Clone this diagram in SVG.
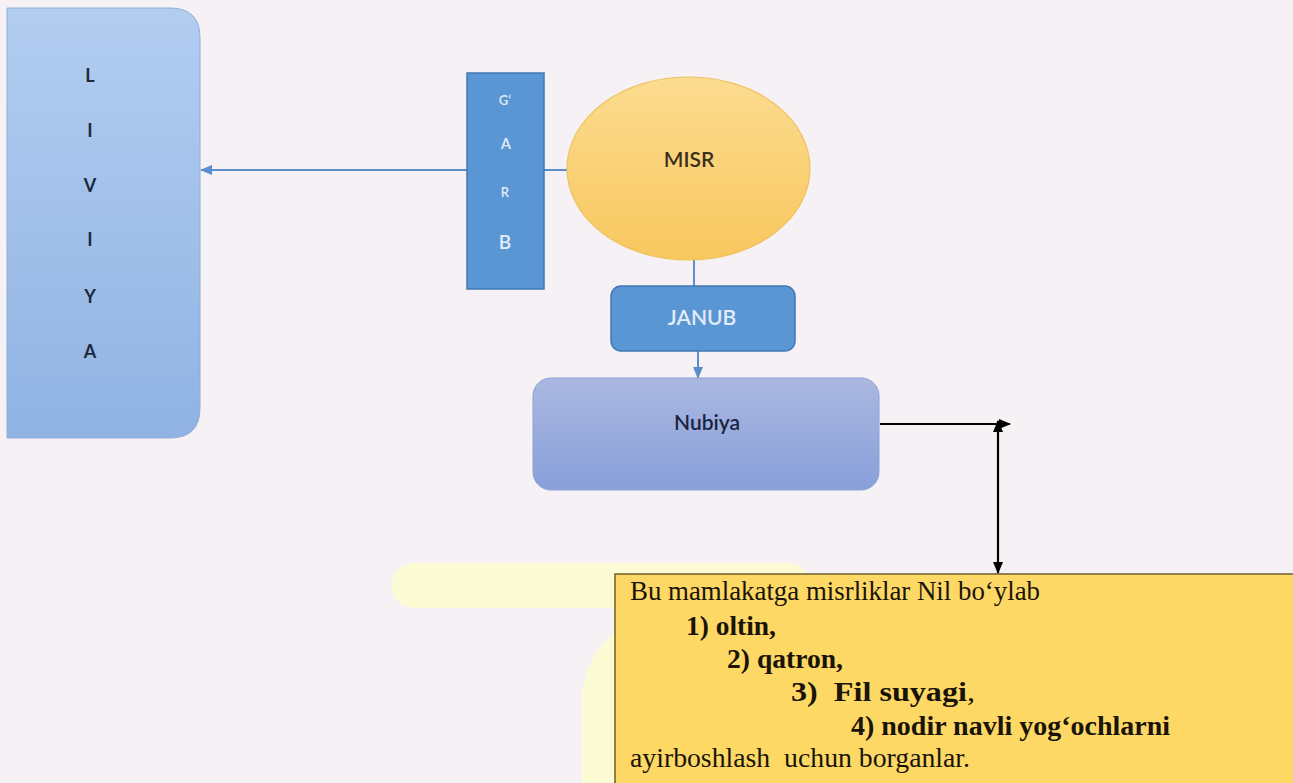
<svg xmlns="http://www.w3.org/2000/svg" width="1293" height="783" viewBox="0 0 1293 783">
<defs>
<linearGradient id="gLiv" x1="0" y1="0" x2="0" y2="1">
<stop offset="0" stop-color="#b2cdf0"/>
<stop offset="1" stop-color="#90b3e3"/>
</linearGradient>
<linearGradient id="gMisr" x1="0" y1="0" x2="0" y2="1">
<stop offset="0" stop-color="#fcdc90"/>
<stop offset="1" stop-color="#f8c75e"/>
</linearGradient>
<linearGradient id="gNub" x1="0" y1="0" x2="0" y2="1">
<stop offset="0" stop-color="#aab8e1"/>
<stop offset="1" stop-color="#889fd9"/>
</linearGradient>
<marker id="blueArrow" markerWidth="12" markerHeight="10" refX="11" refY="5" orient="auto" markerUnits="userSpaceOnUse">
<path d="M0,0 L12,5 L0,10 Z" fill="#5b8fcb"/>
</marker>
<marker id="blackArrow" markerWidth="12" markerHeight="10" refX="11" refY="5" orient="auto-start-reverse" markerUnits="userSpaceOnUse">
<path d="M0,0 L12,5 L0,10 Z" fill="#000"/>
</marker>
</defs>
<style>
.calib{font-family:Lato,"Liberation Sans",sans-serif;text-anchor:middle}
.livl{font-size:18px;font-weight:bold;fill:#1e2a3a}
.wlet{fill:#e3ecf8;font-weight:600}
.mid{font-weight:600}
.blue{fill:#5a96d4;stroke:#4178b4;stroke-width:1.5}
.tnr{font-family:"Liberation Serif","Times New Roman",serif;font-size:27px;fill:#1a1408}
.b{font-weight:bold}
.bl{stroke:#5b8fcb;stroke-width:2;fill:none}
.bk{stroke:#000;stroke-width:2.2;fill:none}
</style>
<rect width="1293" height="783" fill="#f5f1f5"/>

<g id="pale-shape">
<rect x="392" y="563" width="418" height="45" rx="22" fill="#fdfbd4"/>
<path d="M582,783 L582,700 Q586,640 640,618 L700,618 L700,783 Z" fill="#fdfbd4"/>
</g>

<g id="connectors">
<line class="bl" x1="567" y1="170" x2="201" y2="170" marker-end="url(#blueArrow)"/>
<line class="bl" x1="694" y1="258" x2="694" y2="287"/>
<line class="bl" x1="698" y1="351" x2="698" y2="378" marker-end="url(#blueArrow)"/>
<line class="bk" x1="880" y1="424" x2="1010" y2="424" marker-end="url(#blackArrow)"/>
<line class="bk" x1="998" y1="421" x2="998" y2="573" marker-start="url(#blackArrow)" marker-end="url(#blackArrow)"/>
</g>

<g id="liviya">
<path d="M7,8 L170,8 Q200,8 200,38 L200,408 Q200,438 170,438 L7,438 Z" fill="url(#gLiv)" stroke="#8eaedb" stroke-width="1"/>
<text class="calib livl" x="90" y="82">L</text>
<text class="calib livl" x="90" y="137">I</text>
<text class="calib livl" x="90" y="192">V</text>
<text class="calib livl" x="90" y="246">I</text>
<text class="calib livl" x="90" y="303">Y</text>
<text class="calib livl" x="90" y="358">A</text>
</g>

<g id="garb">
<rect class="blue" x="467" y="73" width="77" height="216"/>
<text class="calib wlet" x="505" y="105" font-size="13">G‘</text>
<text class="calib wlet" x="506" y="149" font-size="15">A</text>
<text class="calib wlet" x="505" y="197" font-size="13">R</text>
<text class="calib wlet" x="505" y="249" font-size="19">B</text>
</g>

<g id="misr">
<ellipse cx="688.5" cy="168.5" rx="121.5" ry="91.5" fill="url(#gMisr)" stroke="#efc25e" stroke-width="1.2"/>
<text class="calib mid" x="689" y="167" font-size="21" fill="#3a2e1c">MISR</text>
</g>

<g id="janub">
<rect class="blue" x="611" y="286" width="184" height="65" rx="10"/>
<text class="calib mid" x="702" y="325" font-size="21" fill="#e3ecf8">JANUB</text>
</g>

<g id="nubiya">
<rect x="533" y="378" width="346" height="112" rx="18" fill="url(#gNub)" stroke="#8ea2d6" stroke-width="1"/>
<text class="calib mid" x="707" y="430" font-size="21" fill="#1a2440">Nubiya</text>
</g>

<g id="note">
<rect x="615" y="574" width="690" height="220" fill="#fdd865" stroke="#6e5e2c" stroke-width="1.5"/>
<text class="tnr" x="630" y="600" textLength="410" lengthAdjust="spacingAndGlyphs">Bu mamlakatga misrliklar Nil bo‘ylab</text>
<text class="tnr b" x="686" y="635" textLength="90" lengthAdjust="spacingAndGlyphs">1) oltin,</text>
<text class="tnr b" x="727" y="668" textLength="116" lengthAdjust="spacingAndGlyphs">2) qatron,</text>
<text class="tnr" x="791" y="701" xml:space="preserve" textLength="184" lengthAdjust="spacingAndGlyphs"><tspan class="b">3)  Fil suyagi</tspan>,</text>
<text class="tnr b" x="851" y="735" textLength="319" lengthAdjust="spacingAndGlyphs">4) nodir navli yog‘ochlarni</text>
<text class="tnr" x="630" y="767" xml:space="preserve" textLength="340" lengthAdjust="spacingAndGlyphs">ayirboshlash  uchun borganlar.</text>
</g>
</svg>
